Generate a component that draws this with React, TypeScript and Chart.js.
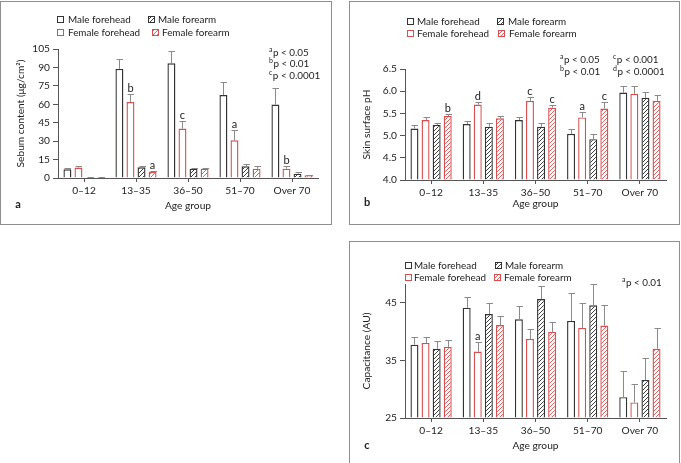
import React, { useEffect, useRef } from 'react';
import { Chart, registerables } from 'chart.js';

Chart.register(...registerables);

const FONT_FAMILY = 'Lato, "Open Sans", "Liberation Sans", sans-serif';
const TICK_SIZE = 10.2;
const LABEL_SIZE = 9.9;
const TITLE_SIZE = 10.2;
const TEXT = '#222222';
const DARK = '#333333';
const RED = '#d94f4f';
const ERR = '#8a8a8a';
const AXIS = '#555555';
const FRAME = '#8f8f8f';

// ---------- shared categories ----------
const ageGroups = ['0–12', '13–35', '36–50', '51–70', 'Over 70'];
const seriesNames = ['Male forehead', 'Female forehead', 'Male forearm', 'Female forearm'];

// ---------- panel a : sebum ----------
const sebumTicks = [0, 15, 30, 45, 60, 75, 90, 105];
const sebumMaleForehead = [7.1, 88.8, 93.4, 67.5, 59.8];
const sebumMaleForeheadSD = [1.0, 8.0, 10.0, 11.0, 13.7];
const sebumFemaleForehead = [8.5, 61.8, 40.3, 30.7, 7.6];
const sebumFemaleForeheadSD = [1.4, 6.2, 5.7, 8.1, 1.9];
const sebumMaleForearm = [0.6, 8.7, 7.6, 9.5, 3.5];
const sebumMaleForearmSD = [0.3, 1.3, 0.6, 1.5, 1.6];
const sebumFemaleForearm = [0.7, 5.0, 7.6, 7.6, 2.2];
const sebumFemaleForearmSD = [0.3, 0.6, 0.6, 2.1, 0.5];
const sebumFemaleForeheadSig = ['', 'b', 'c', 'a', 'b'];
const sebumFemaleForearmSig = ['', 'a', '', '', ''];
const sebumNotes = [['a', 'p < 0.05'], ['b', 'p < 0.01'], ['c', 'p < 0.0001']];

// ---------- panel b : pH ----------
const phTicks = [4.0, 4.5, 5.0, 5.5, 6.0, 6.5];
const phMaleForehead = [5.16, 5.26, 5.35, 5.04, 5.97];
const phMaleForeheadSD = [0.07, 0.08, 0.06, 0.11, 0.15];
const phFemaleForehead = [5.35, 5.70, 5.78, 5.41, 5.94];
const phFemaleForeheadSD = [0.07, 0.06, 0.08, 0.13, 0.18];
const phMaleForearm = [5.24, 5.20, 5.20, 4.92, 5.85];
const phMaleForearmSD = [0.05, 0.08, 0.08, 0.12, 0.14];
const phFemaleForearm = [5.44, 5.39, 5.63, 5.61, 5.78];
const phFemaleForearmSD = [0.05, 0.06, 0.07, 0.14, 0.13];
const phFemaleForeheadSig = ['', 'd', 'c', 'a', ''];
const phFemaleForearmSig = ['b', '', 'c', 'c', ''];
const phNotes = [['a', 'p < 0.05'], ['b', 'p < 0.01'], ['c', 'p < 0.001'], ['d', 'p < 0.0001']];

// ---------- panel c : capacitance ----------
const capTicks = [25, 35, 45];
const capMaleForehead = [37.7, 44.1, 42.1, 41.8, 28.6];
const capMaleForeheadSD = [1.3, 1.9, 2.3, 4.8, 4.6];
const capFemaleForehead = [38.0, 36.5, 38.7, 40.6, 27.7];
const capFemaleForeheadSD = [1.0, 1.7, 1.7, 4.3, 3.2];
const capMaleForearm = [37.0, 43.0, 45.6, 44.5, 31.6];
const capMaleForearmSD = [1.4, 1.9, 2.2, 3.7, 3.8];
const capFemaleForearm = [37.3, 41.1, 39.9, 41.0, 37.0];
const capFemaleForearmSD = [1.2, 1.6, 1.8, 3.6, 3.6];
const capFemaleForeheadSig = ['', 'a', '', '', ''];
const capNotes = [['a', 'p < 0.01']];

const none = ['', '', '', '', ''];

function makeHatch(color: string) {
  const c = document.createElement('canvas');
  const s = 4;
  c.width = s;
  c.height = s;
  const g = c.getContext('2d')!;
  g.fillStyle = '#ffffff';
  g.fillRect(0, 0, s, s);
  g.strokeStyle = color;
  g.lineWidth = 0.9;
  g.beginPath();
  g.moveTo(-1, s + 1);
  g.lineTo(s + 1, -1);
  g.moveTo(-1, 1);
  g.lineTo(1, -1);
  g.moveTo(s - 1, s + 1);
  g.lineTo(s + 1, s - 1);
  g.stroke();
  return g.createPattern(c, 'repeat');
}

type Series = { mean: number[]; sd: number[]; sig: string[] };

interface PanelSpec {
  box: { left: number; top: number; width: number; height: number };
  frame: { x: number; y: number; w: number; h: number };
  padding: { left: number; right: number; top: number; bottom: number };
  yWidth: number;
  xHeight: number;
  yTitle: string;
  yMin: number;
  yMax: number;
  yTicks: number[];
  decimals: number;
  series: Series[];
  legend: { x: number; y: number; tx: number }[];
  notes: string[][];
  notePos: { x: number; y: number }[];
  letter: { text: string; x: number; y: number };
}

const panels: PanelSpec[] = [
  {
    box: { left: 0, top: 0, width: 333, height: 226 },
    frame: { x: 0.5, y: 1.5, w: 331, h: 223 },
    padding: { left: 11, right: 15, top: 49, bottom: 10 },
    yWidth: 47,
    xHeight: 38,
    yTitle: 'Sebum content (μg/cm²)',
    yMin: 0,
    yMax: 105,
    yTicks: sebumTicks,
    decimals: 0,
    series: [
      { mean: sebumMaleForehead, sd: sebumMaleForeheadSD, sig: none },
      { mean: sebumFemaleForehead, sd: sebumFemaleForeheadSD, sig: sebumFemaleForeheadSig },
      { mean: sebumMaleForearm, sd: sebumMaleForearmSD, sig: none },
      { mean: sebumFemaleForearm, sd: sebumFemaleForearmSD, sig: sebumFemaleForearmSig },
    ],
    legend: [
      { x: 57, y: 19, tx: 68 },
      { x: 57, y: 32, tx: 68 },
      { x: 148, y: 19, tx: 158 },
      { x: 152, y: 32, tx: 162 },
    ],
    notes: sebumNotes,
    notePos: [
      { x: 269, y: 52 },
      { x: 269, y: 63.5 },
      { x: 269, y: 75 },
    ],
    letter: { text: 'a', x: 18, y: 204 },
  },
  {
    box: { left: 349, top: 0, width: 332, height: 226 },
    frame: { x: 0.5, y: 1.5, w: 330, h: 223 },
    padding: { left: 8, right: 15, top: 69, bottom: 12 },
    yWidth: 48,
    xHeight: 34,
    yTitle: 'Skin surface pH',
    yMin: 4.0,
    yMax: 6.5,
    yTicks: phTicks,
    decimals: 1,
    series: [
      { mean: phMaleForehead, sd: phMaleForeheadSD, sig: none },
      { mean: phFemaleForehead, sd: phFemaleForeheadSD, sig: phFemaleForeheadSig },
      { mean: phMaleForearm, sd: phMaleForearmSD, sig: none },
      { mean: phFemaleForearm, sd: phFemaleForearmSD, sig: phFemaleForearmSig },
    ],
    legend: [
      { x: 58, y: 21, tx: 68 },
      { x: 58, y: 33.5, tx: 68 },
      { x: 148, y: 21, tx: 159 },
      { x: 149, y: 33.5, tx: 160 },
    ],
    notes: phNotes,
    notePos: [
      { x: 211, y: 59.5 },
      { x: 211, y: 71 },
      { x: 264, y: 59.5 },
      { x: 264, y: 71 },
    ],
    letter: { text: 'b', x: 18, y: 202 },
  },
  {
    box: { left: 349, top: 240, width: 332, height: 223 },
    frame: { x: 0.5, y: 1.5, w: 330, h: 300 },
    padding: { left: 8, right: 15, top: 44, bottom: 7 },
    yWidth: 48,
    xHeight: 38,
    yTitle: 'Capacitance (AU)',
    yMin: 25,
    yMax: 48.2,
    yTicks: capTicks,
    decimals: 0,
    series: [
      { mean: capMaleForehead, sd: capMaleForeheadSD, sig: none },
      { mean: capFemaleForehead, sd: capFemaleForeheadSD, sig: capFemaleForeheadSig },
      { mean: capMaleForearm, sd: capMaleForearmSD, sig: none },
      { mean: capFemaleForearm, sd: capFemaleForearmSD, sig: none },
    ],
    legend: [
      { x: 56, y: 25, tx: 65 },
      { x: 56, y: 37.5, tx: 65 },
      { x: 146, y: 25, tx: 156 },
      { x: 145, y: 37.5, tx: 155 },
    ],
    notes: capNotes,
    notePos: [{ x: 273, y: 42 }],
    letter: { text: 'c', x: 18, y: 205 },
  },
];

function makeDecor(spec: PanelSpec) {
  return {
    id: 'panelDecor',
    beforeDraw(chart: any) {
      const ctx = chart.ctx;
      ctx.save();
      ctx.fillStyle = '#ffffff';
      ctx.fillRect(0, 0, chart.width, chart.height);
      ctx.strokeStyle = FRAME;
      ctx.lineWidth = 1;
      ctx.strokeRect(spec.frame.x, spec.frame.y, spec.frame.w, spec.frame.h);
      ctx.restore();
    },
    afterDatasetsDraw(chart: any) {
      const ctx = chart.ctx;
      const y = chart.scales.y;
      chart.data.datasets.forEach((ds: any, di: number) => {
        const meta = chart.getDatasetMeta(di);
        meta.data.forEach((bar: any, i: number) => {
          const v = ds.data[i];
          const e = ds.errors[i];
          const yTop = y.getPixelForValue(v);
          const yE = Math.round(y.getPixelForValue(v + e)) + 0.5;
          const x = Math.round(bar.x) + 0.5;
          ctx.save();
          ctx.strokeStyle = ERR;
          ctx.lineWidth = 1;
          ctx.beginPath();
          ctx.moveTo(x, yTop);
          ctx.lineTo(x, yE);
          ctx.moveTo(x - 3, yE);
          ctx.lineTo(x + 3.5, yE);
          ctx.stroke();
          const s = ds.sig[i];
          if (s) {
            ctx.fillStyle = TEXT;
            ctx.font = `11px ${FONT_FAMILY}`;
            ctx.textAlign = 'center';
            ctx.textBaseline = 'alphabetic';
            ctx.fillText(s, bar.x, yE - 3);
          }
          ctx.restore();
        });
      });
    },
    afterDraw(chart: any) {
      const ctx = chart.ctx;
      ctx.save();
      // legend
      spec.legend.forEach((p, i) => {
        const ds = chart.data.datasets[i];
        ctx.fillStyle = ds.backgroundColor;
        ctx.fillRect(p.x, Math.round(p.y - 3.5), 7, 7);
        ctx.strokeStyle = ds.borderColor;
        ctx.lineWidth = 1;
        ctx.strokeRect(p.x + 0.5, Math.round(p.y - 3.5) + 0.5, 6, 6);
        ctx.fillStyle = TEXT;
        ctx.font = `${LABEL_SIZE}px ${FONT_FAMILY}`;
        ctx.textAlign = 'left';
        ctx.textBaseline = 'middle';
        ctx.fillText(ds.label, p.tx, p.y + 0.5);
      });
      // p-value notes
      spec.notes.forEach((n, i) => {
        const p = spec.notePos[i];
        const base = p.y + 3.6;
        ctx.fillStyle = TEXT;
        ctx.textAlign = 'left';
        ctx.textBaseline = 'alphabetic';
        ctx.font = `7px ${FONT_FAMILY}`;
        ctx.fillText(n[0], p.x, base - 4);
        const w = ctx.measureText(n[0]).width;
        ctx.font = `${LABEL_SIZE}px ${FONT_FAMILY}`;
        ctx.fillText(n[1], p.x + w + 0.5, base);
      });
      // panel letter
      ctx.font = `bold 11px ${FONT_FAMILY}`;
      ctx.textAlign = 'center';
      ctx.textBaseline = 'middle';
      ctx.fillText(spec.letter.text, spec.letter.x, spec.letter.y);
      ctx.restore();
    },
  };
}

function Panel({ spec }: { spec: PanelSpec }) {
  const ref = useRef<HTMLCanvasElement | null>(null);
  useEffect(() => {
    const canvas = ref.current;
    if (!canvas) return;
    const fills = ['#ffffff', '#ffffff', makeHatch('#2a2a2a'), makeHatch(RED)];
    const borders = [DARK, RED, DARK, RED];
    const font = { family: FONT_FAMILY, size: TICK_SIZE };
    const chart = new Chart(canvas, {
      type: 'bar',
      data: {
        labels: ageGroups,
        datasets: spec.series.map((s, i) => ({
          label: seriesNames[i],
          data: s.mean,
          errors: s.sd,
          sig: s.sig,
          backgroundColor: fills[i],
          borderColor: borders[i],
          borderWidth: 1.4,
          base: spec.yMin,
          barPercentage: 0.72,
          categoryPercentage: 0.85,
        })) as any,
      },
      options: {
        responsive: false,
        animation: false,
        devicePixelRatio: 1,
        layout: { padding: spec.padding },
        plugins: {
          legend: { display: false },
          tooltip: { enabled: false },
        },
        scales: {
          x: {
            offset: true,
            grid: {
              display: true,
              drawOnChartArea: false,
              offset: false,
              tickLength: 4,
              color: AXIS,
            },
            border: { display: true, color: AXIS, width: 1 },
            ticks: { color: TEXT, font, padding: 3, maxRotation: 0, autoSkip: false },
            title: {
              display: true,
              text: 'Age group',
              color: TEXT,
              font: { family: FONT_FAMILY, size: TITLE_SIZE },
              padding: { top: 0, bottom: 4 },
            },
            afterFit: (s: any) => {
              s.height = spec.xHeight;
            },
          },
          y: {
            min: spec.yMin,
            max: spec.yMax,
            grid: { display: true, drawOnChartArea: false, tickLength: 5, color: AXIS },
            border: { display: true, color: AXIS, width: 1 },
            ticks: {
              color: TEXT,
              font,
              padding: 3,
              callback: (v: any) => Number(v).toFixed(spec.decimals),
            },
            afterBuildTicks: (s: any) => {
              s.ticks = spec.yTicks.map((v) => ({ value: v }));
            },
            title: {
              display: true,
              text: spec.yTitle,
              color: TEXT,
              font: { family: FONT_FAMILY, size: TITLE_SIZE },
              padding: { top: 4, bottom: 0 },
            },
            afterFit: (s: any) => {
              s.width = spec.yWidth;
            },
          },
        },
      } as any,
      plugins: [makeDecor(spec)],
    });
    return () => chart.destroy();
  }, [spec]);
  return (
    <canvas
      ref={ref}
      width={spec.box.width}
      height={spec.box.height}
      style={{
        position: 'absolute',
        left: spec.box.left,
        top: spec.box.top,
        width: spec.box.width,
        height: spec.box.height,
      }}
    />
  );
}

export default function App() {
  return (
    <div
      style={{
        position: 'absolute',
        left: 0,
        top: 0,
        width: 681,
        height: 463,
        background: '#ffffff',
        overflow: 'hidden',
      }}
    >
      {panels.map((p, i) => (
        <Panel key={i} spec={p} />
      ))}
    </div>
  );
}
